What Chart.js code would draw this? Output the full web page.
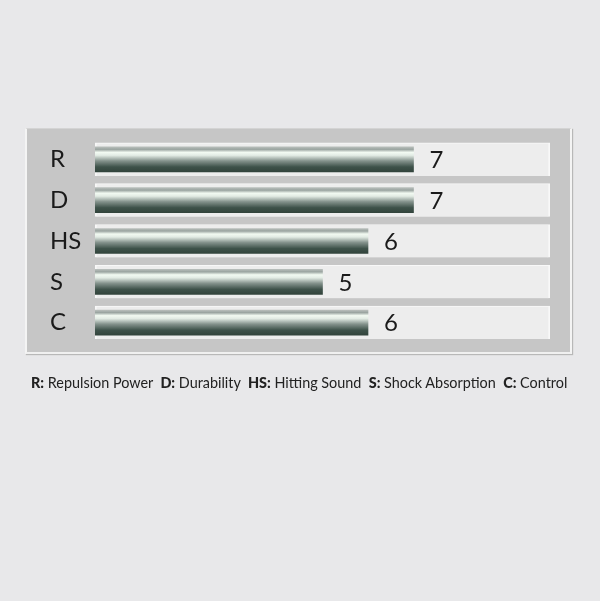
<!DOCTYPE html>
<html>
<head>
<meta charset="utf-8">
<script src="https://cdn.jsdelivr.net/npm/chart.js@4.4.1/dist/chart.umd.min.js"></script>
<style>
  html, body { margin: 0; padding: 0; background: #e8e8ea; }
  #wrap { position: relative; width: 600px; height: 601px; }
  #panel {
    position: absolute; left: 25px; top: 128px; width: 543px; height: 223px;
    background: #c6c6c6; border-top: 1px solid #d4d4d4; border-left: 2px solid #f4f4f4;
    border-right: 2px solid #f4f4f4; border-bottom: 2px solid #f0f0f0;
    box-shadow: 1px 1px 1px #b8b8b8;
  }
  canvas { position: absolute; left: 0; top: 0; }
  #legend {
    position: absolute; left: 31px; top: 374px; font: 14.4px Lato, sans-serif; color: #222;
    white-space: nowrap;
  }
  #legend b { font-weight: 900; }
</style>
</head>
<body>
<div id="wrap">
  <div id="panel"></div>
  <canvas id="chart" width="600" height="601"></canvas>
  <div id="legend"></div>
</div>
<script>
const categories = ['R', 'D', 'HS', 'S', 'C'];
const scores = [7, 7, 6, 5, 6];
const maxScore = 10;
const legendKeys = ['R', 'D', 'HS', 'S', 'C'];
const legendNames = ['Repulsion Power', 'Durability', 'Hitting Sound', 'Shock Absorption', 'Control'];

document.getElementById('legend').innerHTML = legendKeys
    .map((k, i) => `<b>${k}:</b> ${legendNames[i]}`)
    .join('&nbsp;&nbsp;');

const BAR_H = 25;

// bar gradient, built per bar from its row position
function barFill(context) {
    const chart = context.chart;
    const y = chart.scales && chart.scales.y;
    const cy = y ? y.getPixelForValue(context.dataIndex) : NaN;
    if (!isFinite(cy)) return '#5a6a62';
    const top = cy - BAR_H / 2;
    const g = chart.ctx.createLinearGradient(0, top, 0, top + BAR_H);
    g.addColorStop(0, '#b8bebb');
    g.addColorStop(0.1, '#9aa4a0');
    g.addColorStop(0.22, '#f2faf2');
    g.addColorStop(0.34, '#e2ebe4');
    g.addColorStop(0.56, '#84928c');
    g.addColorStop(0.8, '#3e524a');
    g.addColorStop(1, '#32443c');
    return g;
}

const valueLabels = {
    id: 'valueLabels',
    afterDatasetsDraw(chart) {
        const ctx = chart.ctx;
        const meta = chart.getDatasetMeta(1);
        ctx.save();
        ctx.font = '24px Lato, sans-serif';
        ctx.fillStyle = '#1a1a1a';
        ctx.textBaseline = 'middle';
        meta.data.forEach((bar, i) => {
            ctx.fillText(scores[i], bar.x + 16, bar.y + 1);
        });
        ctx.restore();
    }
};

const chart = new Chart(document.getElementById('chart'), {
    type: 'bar',
    data: {
        labels: categories,
        datasets: [
            {
                data: categories.map(() => maxScore),
                backgroundColor: '#ededed',
                borderColor: '#f8f8f8',
                borderWidth: { top: 1, left: 2, right: 2, bottom: 0 },
                borderSkipped: false,
                barThickness: 33,
                grouped: false,
                order: 2
            },
            {
                data: scores,
                backgroundColor: barFill,
                borderWidth: 0,
                barThickness: BAR_H,
                grouped: false,
                order: 1
            }
        ]
    },
    options: {
        indexAxis: 'y',
        responsive: false,
        animation: false,
        layout: { padding: { left: 50, right: 50, top: 139, bottom: 258 } },
        plugins: { legend: { display: false }, tooltip: { enabled: false } },
        scales: {
            x: { display: false, min: 0, max: maxScore },
            y: {
                grid: { display: false },
                border: { display: false },
                afterFit: s => { s.width = 45; },
                ticks: {
                    crossAlign: 'far',
                    padding: 0,
                    color: '#1a1a1a',
                    font: { family: 'Lato, sans-serif', size: 24 }
                }
            }
        }
    },
    plugins: [valueLabels]
});
chart.update();
</script>
</body>
</html>
